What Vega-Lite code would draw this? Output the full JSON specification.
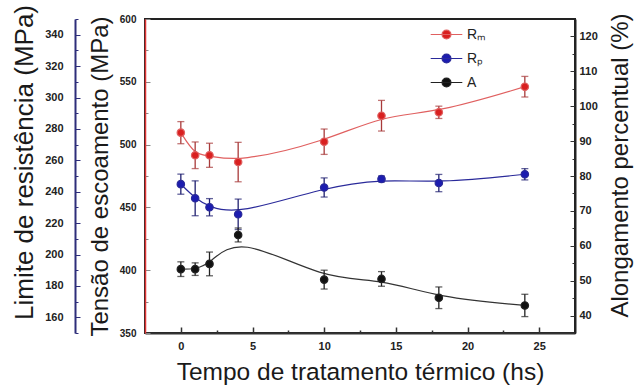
{
  "$schema": "https://vega.github.io/schema/vega-lite/v6.json",
  "width": 430,
  "height": 314,
  "autosize": {"type": "none"},
  "padding": {"left": 145, "top": 19, "right": 61, "bottom": 52},
  "background": "white",
  "config": {
    "view": {"stroke": "#222222", "strokeWidth": 2},
    "font": "Liberation Sans",
    "axis": {
      "grid": false,
      "labelFont": "Liberation Sans",
      "labelFontWeight": "bold",
      "labelColor": "#222222",
      "titleFont": "Liberation Sans",
      "titleFontWeight": "normal",
      "titleColor": "#1a1a1a",
      "labelFlush": false,
      "labelOverlap": false
    },
    "legend": {
      "orient": "none",
      "legendX": 285,
      "legendY": -1,
      "title": null,
      "rowPadding": -3,
      "symbolType": "M-1,0H1M-0.28,0A0.28,0.28 0 1 1 0.28,0A0.28,0.28 0 1 1 -0.28,0",
      "symbolSize": 1000,
      "symbolStrokeWidth": 1.2,
      "labelFont": "Liberation Sans",
      "labelFontSize": 14,
      "labelColor": "#222222"
    }
  },
  "data": {
    "values": [
      {"t": 0, "serie": "Rₘ", "valor": 509.5, "erro": 8.8},
      {"t": 1, "serie": "Rₘ", "valor": 491.5, "erro": 10.6},
      {"t": 2, "serie": "Rₘ", "valor": 491.5, "erro": 9.6},
      {"t": 4, "serie": "Rₘ", "valor": 486.1, "erro": 15.7},
      {"t": 10, "serie": "Rₘ", "valor": 502.3, "erro": 10.1},
      {"t": 14, "serie": "Rₘ", "valor": 523.0, "erro": 12.2},
      {"t": 18, "serie": "Rₘ", "valor": 525.7, "erro": 4.9},
      {"t": 24, "serie": "Rₘ", "valor": 546.1, "erro": 8.2},
      {"t": 0, "serie": "Rₚ", "valor": 244.8, "erro": 6.4},
      {"t": 1, "serie": "Rₚ", "valor": 235.8, "erro": 11.1},
      {"t": 2, "serie": "Rₚ", "valor": 230.1, "erro": 5.5},
      {"t": 4, "serie": "Rₚ", "valor": 225.6, "erro": 9.7},
      {"t": 10, "serie": "Rₚ", "valor": 242.7, "erro": 6.1},
      {"t": 14, "serie": "Rₚ", "valor": 248.1, "erro": 1.9},
      {"t": 18, "serie": "Rₚ", "valor": 245.5, "erro": 5.5},
      {"t": 24, "serie": "Rₚ", "valor": 251.1, "erro": 3.6},
      {"t": 0, "serie": "A", "valor": 53.3, "erro": 2.1},
      {"t": 1, "serie": "A", "valor": 53.3, "erro": 1.8},
      {"t": 2, "serie": "A", "valor": 54.8, "erro": 3.4},
      {"t": 4, "serie": "A", "valor": 63.1, "erro": 2.0},
      {"t": 10, "serie": "A", "valor": 50.3, "erro": 2.7},
      {"t": 14, "serie": "A", "valor": 50.5, "erro": 2.1},
      {"t": 18, "serie": "A", "valor": 45.1, "erro": 3.1},
      {"t": 24, "serie": "A", "valor": 42.9, "erro": 3.2}
    ]
  },
  "encoding": {
    "x": {
      "field": "t",
      "type": "quantitative",
      "scale": {"domain": [-2.5, 27.5], "nice": false, "zero": false},
      "axis": {
        "values": [0, 2.5, 5, 7.5, 10, 12.5, 15, 17.5, 20, 22.5, 25],
        "labelExpr": "datum.value % 5 === 0 ? datum.label : ''",
        "tickSize": {"condition": {"test": "datum.value % 5 !== 0", "value": -3}, "value": -6},
        "tickColor": "#333333",
        "tickWidth": 1.5,
        "domainColor": "#333333",
        "domainWidth": 2,
        "labelFontSize": 11,
        "labelPadding": 13,
        "title": "Tempo de tratamento térmico (hs)",
        "titleFontSize": 24.5,
        "titleY": 46,
        "titleBaseline": "alphabetic"
      }
    }
  },
  "layer": [
    {
      "transform": [{"filter": "datum.serie === 'Rₘ'"}],
      "encoding": {
        "y": {
          "field": "valor",
          "type": "quantitative",
          "scale": {"domain": [350, 600], "nice": false, "zero": false},
          "axis": {
            "orient": "left",
            "values": [350, 375, 400, 425, 450, 475, 500, 525, 550, 575, 600],
            "labelExpr": "datum.value % 50 === 0 ? datum.label : ''",
            "tickSize": {"condition": {"test": "datum.value % 50 !== 0", "value": -3}, "value": -5},
            "tickColor": "#888888",
            "domainColor": "#e03535",
            "domainWidth": 1.5,
            "labelFontSize": 10,
            "labelPadding": 14,
            "title": "Tensão de escoamento (MPa)",
            "titleFontSize": 24,
            "titleX": -38,
            "titleBaseline": "alphabetic"
          }
        }
      },
      "layer": [
        {"mark": {"type": "line", "interpolate": "basis", "color": "#e06060", "strokeWidth": 1.2}},
        {
          "mark": {"type": "errorbar", "ticks": {"size": 7}, "color": "#a83a3a", "thickness": 1.3},
          "encoding": {"yError": {"field": "erro"}}
        },
        {
          "mark": {"type": "point", "filled": true, "size": 55, "opacity": 1, "strokeWidth": 1.2},
          "encoding": {
            "fill": {
              "field": "serie",
              "type": "nominal",
              "scale": {"domain": ["Rₘ", "Rₚ", "A"], "range": ["#d92020", "#1c1cb0", "#111111"]}
            },
            "stroke": {
              "field": "serie",
              "type": "nominal",
              "scale": {"domain": ["Rₘ", "Rₚ", "A"], "range": ["#e06060", "#2a2a9a", "#222222"]}
            }
          }
        }
      ]
    },
    {
      "transform": [{"filter": "datum.serie === 'Rₚ'"}],
      "encoding": {
        "y": {
          "field": "valor",
          "type": "quantitative",
          "scale": {"domain": [150, 350], "nice": false, "zero": false},
          "axis": {
            "orient": "left",
            "offset": 70,
            "values": [150, 160, 170, 180, 190, 200, 210, 220, 230, 240, 250, 260, 270, 280, 290, 300, 310, 320, 330, 340, 350],
            "labelExpr": "datum.value % 20 === 0 && datum.value >= 160 && datum.value <= 340 ? datum.label : ''",
            "tickSize": {"condition": {"test": "datum.value % 20 !== 0", "value": -3}, "value": -5},
            "tickColor": "#2e2e7a",
            "domainColor": "#2e2e7a",
            "domainWidth": 2,
            "labelFontSize": 11,
            "labelPadding": 17,
            "title": "Limite de resistência (MPa)",
            "titleFontSize": 26,
            "titleX": -43,
            "titleY": 143,
            "titleBaseline": "alphabetic"
          }
        }
      },
      "layer": [
        {"mark": {"type": "line", "interpolate": "basis", "color": "#2a2a9a", "strokeWidth": 1.2}},
        {
          "mark": {"type": "errorbar", "ticks": {"size": 7}, "color": "#202070", "thickness": 1.3},
          "encoding": {"yError": {"field": "erro"}}
        },
        {
          "mark": {"type": "point", "filled": true, "size": 55, "opacity": 1, "strokeWidth": 1.2},
          "encoding": {
            "fill": {
              "field": "serie",
              "type": "nominal",
              "scale": {"domain": ["Rₘ", "Rₚ", "A"], "range": ["#d92020", "#1c1cb0", "#111111"]}
            },
            "stroke": {
              "field": "serie",
              "type": "nominal",
              "scale": {"domain": ["Rₘ", "Rₚ", "A"], "range": ["#e06060", "#2a2a9a", "#222222"]}
            }
          }
        }
      ]
    },
    {
      "transform": [{"filter": "datum.serie === 'A'"}],
      "encoding": {
        "y": {
          "field": "valor",
          "type": "quantitative",
          "scale": {"domain": [35, 125], "nice": false, "zero": false},
          "axis": {
            "orient": "right",
            "values": [40, 45, 50, 55, 60, 65, 70, 75, 80, 85, 90, 95, 100, 105, 110, 115, 120],
            "labelExpr": "datum.value % 10 === 0 ? datum.label : ''",
            "tickSize": {"condition": {"test": "datum.value % 10 !== 0", "value": -3}, "value": -5},
            "tickColor": "#333333",
            "domainColor": "#222222",
            "domainWidth": 2,
            "labelFontSize": 11,
            "labelPadding": 9,
            "title": "Alongamento percentual (%)",
            "titleFontSize": 24,
            "titleAngle": 270,
            "titleX": 52,
            "titleY": 146,
            "titleBaseline": "alphabetic"
          }
        }
      },
      "layer": [
        {"mark": {"type": "line", "interpolate": "basis", "color": "#333333", "strokeWidth": 1.2}},
        {
          "mark": {"type": "errorbar", "ticks": {"size": 7}, "color": "#222222", "thickness": 1.3},
          "encoding": {"yError": {"field": "erro"}}
        },
        {
          "mark": {"type": "point", "filled": true, "size": 55, "opacity": 1, "strokeWidth": 1.2},
          "encoding": {
            "fill": {
              "field": "serie",
              "type": "nominal",
              "scale": {"domain": ["Rₘ", "Rₚ", "A"], "range": ["#d92020", "#1c1cb0", "#111111"]}
            },
            "stroke": {
              "field": "serie",
              "type": "nominal",
              "scale": {"domain": ["Rₘ", "Rₚ", "A"], "range": ["#e06060", "#2a2a9a", "#222222"]}
            }
          }
        }
      ]
    }
  ],
  "resolve": {"scale": {"y": "independent"}, "axis": {"y": "independent"}}
}
